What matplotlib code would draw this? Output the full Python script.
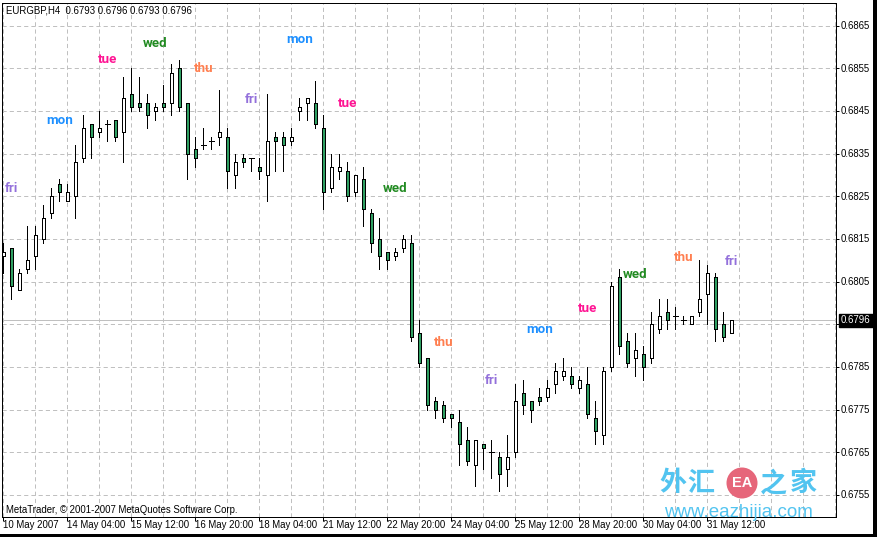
import matplotlib
matplotlib.use("Agg")
import matplotlib.pyplot as plt
from matplotlib.patches import Rectangle, Ellipse

plt.rcParams['lines.scale_dashes'] = False

W, H, DPI = 877, 537, 100

# ---------------- data (EURGBP H4 candles) ----------------
opens = [0.6811, 0.6813, 0.6803, 0.6808, 0.6811, 0.6815, 0.6821, 0.6828, 0.6824, 0.6825,
         0.6834, 0.6842, 0.6840, 0.6842, 0.6843, 0.6840, 0.6849, 0.6847, 0.6847, 0.6845,
         0.6847, 0.6847, 0.6855, 0.6847, 0.6836, 0.6837, 0.6838, 0.6839, 0.6839, 0.6830,
         0.6834, 0.6834, 0.6832, 0.6830, 0.6839, 0.6839, 0.6838, 0.6845, 0.6847, 0.6847,
         0.6841, 0.6827, 0.6831, 0.6831, 0.6826, 0.6829, 0.6821, 0.6815, 0.6812, 0.6811,
         0.6813, 0.6814, 0.6793, 0.6787, 0.6777, 0.6776, 0.6774, 0.6772, 0.6768, 0.6762,
         0.6767, 0.6765, 0.6764, 0.6761, 0.6765, 0.6779, 0.6777, 0.6778, 0.6778, 0.6781,
         0.6783, 0.6783, 0.6780, 0.6781, 0.6773, 0.6769, 0.6785, 0.6806, 0.6791, 0.6787,
         0.6788, 0.6787, 0.6794, 0.6798, 0.6797, 0.6796, 0.6795, 0.6798, 0.6802, 0.6806,
         0.6795, 0.6793]
highs = [0.6814, 0.6813, 0.6808, 0.6818, 0.6818, 0.6823, 0.6827, 0.6829, 0.6828, 0.6837,
         0.6844, 0.6842, 0.6845, 0.6843, 0.6843, 0.6853, 0.6855, 0.6853, 0.6849, 0.6847,
         0.6851, 0.6856, 0.6857, 0.6847, 0.6839, 0.6841, 0.6839, 0.6850, 0.6841, 0.6835,
         0.6835, 0.6834, 0.6834, 0.6849, 0.6840, 0.6840, 0.6841, 0.6848, 0.6848, 0.6852,
         0.6844, 0.6835, 0.6835, 0.6833, 0.6830, 0.6832, 0.6822, 0.6820, 0.6812, 0.6813,
         0.6816, 0.6816, 0.6796, 0.6787, 0.6778, 0.6777, 0.6774, 0.6775, 0.6771, 0.6768,
         0.6767, 0.6768, 0.6765, 0.6769, 0.6781, 0.6782, 0.6777, 0.6780, 0.6782, 0.6786,
         0.6787, 0.6785, 0.6783, 0.6785, 0.6777, 0.6785, 0.6805, 0.6808, 0.6793, 0.6793,
         0.6790, 0.6798, 0.6801, 0.6801, 0.6799, 0.6797, 0.6797, 0.6810, 0.6809, 0.6807,
         0.6798, 0.6796]
lows = [0.6807, 0.6801, 0.6803, 0.6807, 0.6808, 0.6814, 0.6820, 0.6824, 0.6824, 0.6820,
        0.6833, 0.6834, 0.6839, 0.6838, 0.6838, 0.6833, 0.6845, 0.6845, 0.6841, 0.6843,
        0.6845, 0.6844, 0.6845, 0.6829, 0.6832, 0.6836, 0.6836, 0.6837, 0.6827, 0.6827,
        0.6832, 0.6831, 0.6829, 0.6824, 0.6831, 0.6831, 0.6837, 0.6843, 0.6843, 0.6841,
        0.6822, 0.6826, 0.6829, 0.6824, 0.6825, 0.6818, 0.6812, 0.6808, 0.6808, 0.6810,
        0.6812, 0.6791, 0.6785, 0.6775, 0.6773, 0.6772, 0.6771, 0.6762, 0.6762, 0.6757,
        0.6761, 0.6759, 0.6756, 0.6757, 0.6764, 0.6774, 0.6772, 0.6776, 0.6777, 0.6779,
        0.6782, 0.6780, 0.6779, 0.6773, 0.6767, 0.6767, 0.6784, 0.6788, 0.6785, 0.6783,
        0.6782, 0.6786, 0.6793, 0.6794, 0.6794, 0.6795, 0.6795, 0.6797, 0.6795, 0.6791,
        0.6791, 0.6793]
closes = [0.6812, 0.6804, 0.6807, 0.6810, 0.6816, 0.6820, 0.6825, 0.6826, 0.6826, 0.6833,
          0.6841, 0.6839, 0.6841, 0.6842, 0.6839, 0.6848, 0.6846, 0.6846, 0.6844, 0.6846,
          0.6846, 0.6854, 0.6846, 0.6835, 0.6834, 0.6837, 0.6838, 0.6840, 0.6831, 0.6833,
          0.6833, 0.6834, 0.6831, 0.6838, 0.6838, 0.6837, 0.6839, 0.6846, 0.6848, 0.6842,
          0.6826, 0.6832, 0.6832, 0.6825, 0.6830, 0.6822, 0.6814, 0.6811, 0.6810, 0.6812,
          0.6815, 0.6792, 0.6786, 0.6776, 0.6775, 0.6773, 0.6773, 0.6767, 0.6763, 0.6768,
          0.6766, 0.6765, 0.6760, 0.6764, 0.6777, 0.6776, 0.6775, 0.6777, 0.6780, 0.6784,
          0.6784, 0.6781, 0.6782, 0.6774, 0.6770, 0.6784, 0.6804, 0.6790, 0.6786, 0.6789,
          0.6785, 0.6795, 0.6797, 0.6796, 0.6797, 0.6796, 0.6797, 0.6801, 0.6807, 0.6794,
          0.6792, 0.6796]

symbol = "EURGBP,H4"
current_price = 0.6796

time_labels = ["10 May 2007", "14 May 04:00", "15 May 12:00", "16 May 20:00",
               "18 May 04:00", "21 May 12:00", "22 May 20:00", "24 May 04:00",
               "25 May 12:00", "28 May 20:00", "30 May 04:00", "31 May 12:00"]
time_label_bars = [0, 8, 16, 24, 32, 40, 48, 56, 64, 72, 80, 88]

price_levels = [0.6755, 0.6765, 0.6775, 0.6785, 0.6795, 0.6805,
                0.6815, 0.6825, 0.6835, 0.6845, 0.6855, 0.6865]
vgrid_bars = list(range(0, 105, 4))

day_names = ["fri", "mon", "tue", "wed", "thu", "fri", "mon", "tue",
             "wed", "thu", "fri", "mon", "tue", "wed", "thu", "fri"]
day_bars = [1, 7, 13, 19, 25, 31, 37, 43, 49, 55, 61, 67, 73, 79, 85, 91]
day_prices = [0.68260, 0.68419, 0.68562, 0.68601, 0.68541, 0.68469, 0.68609, 0.68460,
              0.68260, 0.67899, 0.67811, 0.67929, 0.67979, 0.68058, 0.68098, 0.68090]
day_colors = {"mon": "#1E90FF", "tue": "#FF1493", "wed": "#228B22",
              "thu": "#FF7F50", "fri": "#9370DB"}

# ---------------- figure ----------------
fig = plt.figure(figsize=(W / DPI, H / DPI), dpi=DPI, facecolor="white")
ax = fig.add_axes([2 / W, 20 / H, 834 / W, 514 / H])
ax.set_facecolor("white")
ax.set_xlim(-0.1625, 104.09)
ax.set_ylim(0.674984, 0.687033)

PX = 0.72  # one pixel in points
grid_kw = dict(color="#C0C0C0", lw=PX, linestyle=(0, (3, 2.2)), zorder=0)
for b in vgrid_bars:
    ax.axvline(b, **grid_kw)
for p in price_levels:
    ax.axhline(p, **grid_kw)
ax.axhline(current_price, color="#C0C0C0", lw=PX, zorder=0.5)

GREEN = "#2F9F62"
BW = 0.42
for i, (o, h, l, c) in enumerate(zip(opens, highs, lows, closes)):
    ax.vlines(i, l, h, color="black", lw=PX, zorder=2, antialiased=False)
    if c == o:
        ax.hlines(o, i - 0.3, i + 0.3, color="black", lw=PX, zorder=3, antialiased=False)
    else:
        fc = "white" if c > o else GREEN
        ax.add_patch(Rectangle((i - BW / 2, min(o, c)), BW, abs(c - o),
                               facecolor=fc, edgecolor="black", lw=PX, zorder=3,
                               antialiased=False))

for name, b, p in zip(day_names, day_bars, day_prices):
    ax.text(b, p, name, color=day_colors[name], ha="center", va="baseline",
            fontsize=9.6, fontweight="bold", family=["Roboto", "DejaVu Sans"], zorder=4)

# axes frame and ticks
for s in ax.spines.values():
    s.set_color("black")
    s.set_linewidth(PX)
ax.set_xticks(time_label_bars)
ax.yaxis.set_ticks_position("right")
ax.set_yticks(price_levels)
ax.tick_params(axis="x", length=3.5 * PX, width=PX, direction="out",
               labelbottom=False, color="black")
ax.tick_params(axis="y", length=3 * PX, width=PX, direction="out",
               labelright=False, labelleft=False, color="black")

FONT = ["Liberation Sans", "DejaVu Sans"]
FS = 6.9
for lbl, b in zip(time_labels, time_label_bars):
    ax.annotate(lbl, xy=(b, 0), xycoords=("data", "axes fraction"),
                xytext=(0, -11.5), textcoords="offset pixels",
                ha="left", va="baseline", fontsize=FS, family=FONT, annotation_clip=False)
for p in price_levels:
    ax.annotate(f"{p:.4f}", xy=(1, p), xycoords=("axes fraction", "data"),
                xytext=(5, -3.4), textcoords="offset pixels",
                ha="left", va="baseline", fontsize=FS, family=FONT, annotation_clip=False)
# current price box
ax.annotate(f"{current_price:.4f}", xy=(1, current_price), xycoords=("axes fraction", "data"),
            xytext=(5, -3.4), textcoords="offset pixels", ha="left", va="baseline",
            fontsize=FS, family=FONT, color="white", annotation_clip=False, zorder=10,
            bbox=dict(boxstyle="square,pad=0.2", facecolor="black", edgecolor="black"))

# header and copyright
header = "{}  {:.4f} {:.4f} {:.4f} {:.4f}".format(symbol, opens[-1], highs[-1], lows[-1], closes[-1])
fig.text(6 / W, 1 - 13.5 / H, header, ha="left", va="baseline", fontsize=FS, family=FONT)
fig.text(6 / W, 1 - 513 / H, "MetaTrader, \u00a9 2001-2007 MetaQuotes Software Corp.",
         ha="left", va="baseline", fontsize=FS, family=FONT)

# watermark
WB = "#52C4F0"
CJK = ["Noto Sans CJK SC", "DejaVu Sans"]
for ch, cx in zip(["外", "汇", "之", "家"], [673, 701, 773, 803]):
    fig.text(cx / W, 1 - 483 / H, ch, ha="center", va="center", fontsize=19.5,
             fontweight="bold", family=CJK, color=WB, zorder=20)
fig.patches.append(Ellipse((742 / W, 1 - 483 / H), 31 / W, 31 / H, transform=fig.transFigure,
                           facecolor="#E6667A", edgecolor="none", zorder=20))
fig.text(742 / W, 1 - 483 / H, "EA", ha="center", va="center", fontsize=10.5,
         fontweight="bold", family=FONT, color="white", zorder=21)
fig.text(738 / W, 1 - 517 / H, "www.eazhijia.com", ha="center", va="baseline",
         fontsize=13.5, family=FONT, color=WB, zorder=20)

# outer window edges
fig.patches.append(Rectangle((873 / W, 0), 4 / W, 1, transform=fig.transFigure,
                             facecolor="black", edgecolor="none", zorder=30))
fig.patches.append(Rectangle((0, 0), 1, 3.5 / H, transform=fig.transFigure,
                             facecolor="black", edgecolor="none", zorder=30))

fig.savefig("out.png", dpi=DPI, facecolor="white")
